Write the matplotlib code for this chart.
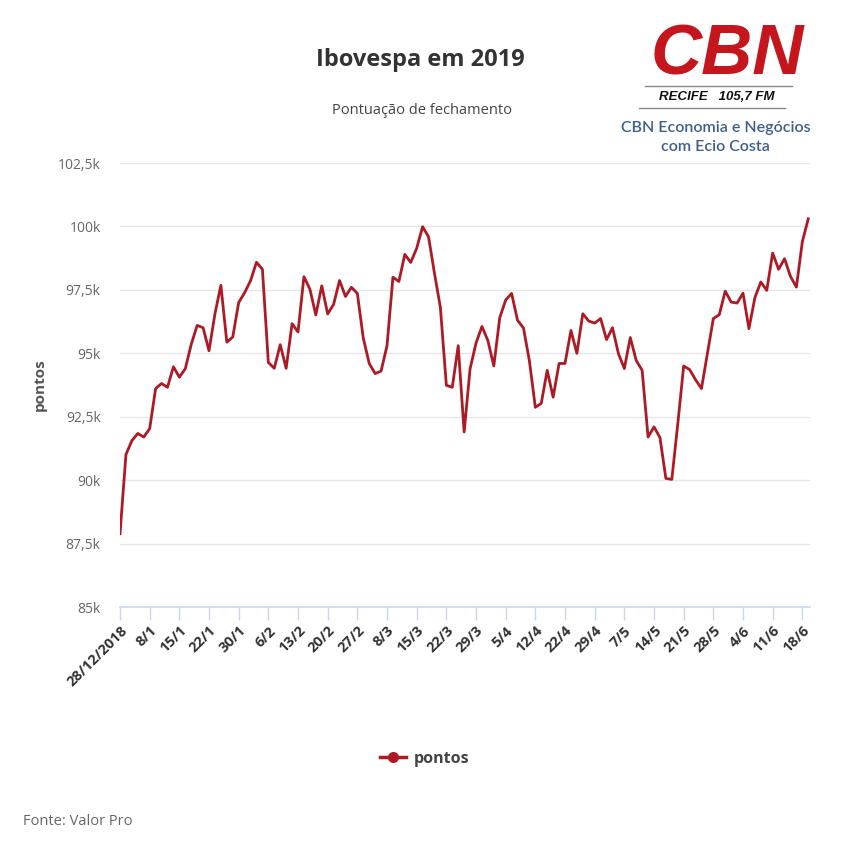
import matplotlib
matplotlib.use("Agg")
import matplotlib.pyplot as plt
from matplotlib.lines import Line2D

# Ibovespa closing points (thousands), one per trading day 28/12/2018 .. 19/6/2019
pontos = [
    87.89, 91.01, 91.56, 91.84, 91.70, 92.03, 93.61, 93.81, 93.66, 94.47,
    94.06, 94.39, 95.35, 96.10, 96.01, 95.10, 96.56, 97.68, 95.44, 95.64,
    97.00, 97.39, 97.86, 98.59, 98.31, 94.64, 94.41, 95.34, 94.41, 96.17,
    95.84, 98.02, 97.53, 96.51, 97.66, 96.55, 96.93, 97.87, 97.24, 97.60,
    97.36, 95.60, 94.60, 94.20, 94.30, 95.30, 98.00, 97.83, 98.90, 98.58,
    99.14, 99.99, 99.59, 98.15, 96.80, 93.74, 93.66, 95.30, 91.90, 94.39,
    95.40, 96.06, 95.50, 94.50, 96.40, 97.10, 97.36, 96.30, 96.00, 94.70,
    92.87, 93.03, 94.33, 93.27, 94.60, 94.60, 95.90, 95.00, 96.56, 96.27,
    96.19, 96.37, 95.54, 96.01, 94.99, 94.40, 95.62, 94.72, 94.33, 91.70,
    92.10, 91.68, 90.07, 90.03, 92.20, 94.50, 94.36, 93.96, 93.61, 94.99,
    96.37, 96.52, 97.45, 97.02, 96.98, 97.37, 95.97, 97.19, 97.81, 97.48,
    98.95, 98.31, 98.73, 98.03, 97.61, 99.40, 100.30,
]

tick_labels = [
    "28/12/2018", "8/1", "15/1", "22/1", "30/1", "6/2", "13/2", "20/2",
    "27/2", "8/3", "15/3", "22/3", "29/3", "5/4", "12/4", "22/4", "29/4",
    "7/5", "14/5", "21/5", "28/5", "4/6", "11/6", "18/6",
]
tick_step = 5

y_ticks = [85, 87.5, 90, 92.5, 95, 97.5, 100, 102.5]
y_tick_labels = ["85k", "87,5k", "90k", "92,5k", "95k", "97,5k", "100k", "102,5k"]

line_color = "#ad1a26"
font = ["Open Sans", "DejaVu Sans"]

fig = plt.figure(figsize=(8.5, 8.49), dpi=100)
fig.patch.set_facecolor("white")
ax = fig.add_axes([0.1412, 0.285, 0.8118, 0.523])

x = list(range(len(pontos)))
ax.plot(x, pontos, color=line_color, lw=2.0, solid_joinstyle="round")

ax.set_xlim(0, 116.3)
ax.set_ylim(85, 102.5)

ax.set_yticks(y_ticks)
ax.set_yticklabels(y_tick_labels, family=font, fontsize=10, color="#666666")
ax.tick_params(axis="y", length=0, pad=14)
ax.grid(True, axis="y", color="#e6e6e6", lw=1)
ax.set_axisbelow(True)

ax.set_xticks([i * tick_step for i in range(len(tick_labels))])
ax.set_xticklabels(tick_labels, rotation=45, ha="right", rotation_mode="anchor",
                   family=font, fontsize=10.5, fontweight="bold", color="#333333")
ax.tick_params(axis="x", length=9, width=1, color="#ccd6eb", pad=3)

for side in ["top", "right", "left"]:
    ax.spines[side].set_visible(False)
ax.spines["bottom"].set_color("#ccd6eb")
ax.spines["bottom"].set_linewidth(1.2)

ax.set_ylabel("pontos", family=font, fontsize=11, fontweight="bold", color="#555555", labelpad=8)

fig.text(0.495, 0.929, "Ibovespa em 2019", ha="center", va="center",
         family=font, fontsize=17, fontweight="bold", color="#333333")
fig.text(0.496, 0.870, "Pontuação de fechamento", ha="center", va="center",
         family=font, fontsize=10.5, color="#444444")

handle = Line2D([0], [0], color=line_color, lw=2.5, marker="o", markersize=7)
fig.legend([handle], ["pontos"], loc="center", bbox_to_anchor=(0.5, 0.106),
           frameon=False, handlelength=1.6, handletextpad=0.5,
           prop={"family": font, "size": 11.5, "weight": "bold"}, labelcolor="#444444")

fig.text(0.027, 0.032, "Fonte: Valor Pro", ha="left", va="center",
         family=font, fontsize=10.5, color="#666666")

# CBN logo block
fig.text(0.856, 0.934, "CBN", ha="center", va="center", family="Liberation Sans",
         fontsize=51, fontweight="bold", fontstyle="italic", color="#c4161c")
fig.add_artist(Line2D([645 / 850, 792 / 850], [1 - 86 / 849] * 2, color="#888888", lw=1))
fig.add_artist(Line2D([639 / 850, 785 / 850], [1 - 108 / 849] * 2, color="#888888", lw=1))
fig.text(0.843, 1 - 97 / 849, "RECIFE   105,7 FM", ha="center", va="center",
         family="Liberation Sans", fontsize=9.5, fontweight="bold", fontstyle="italic",
         color="#111111")
fig.text(0.842, 1 - 128 / 849, "CBN Economia e Negócios", ha="center", va="center",
         family=["Lato", "DejaVu Sans"], fontsize=11.5, fontweight="semibold", color="#3e5f8c")
fig.text(0.842, 1 - 147 / 849, "com Ecio Costa", ha="center", va="center",
         family=["Lato", "DejaVu Sans"], fontsize=11.5, fontweight="semibold", color="#3e5f8c")

fig.savefig("out.png", dpi=100)
